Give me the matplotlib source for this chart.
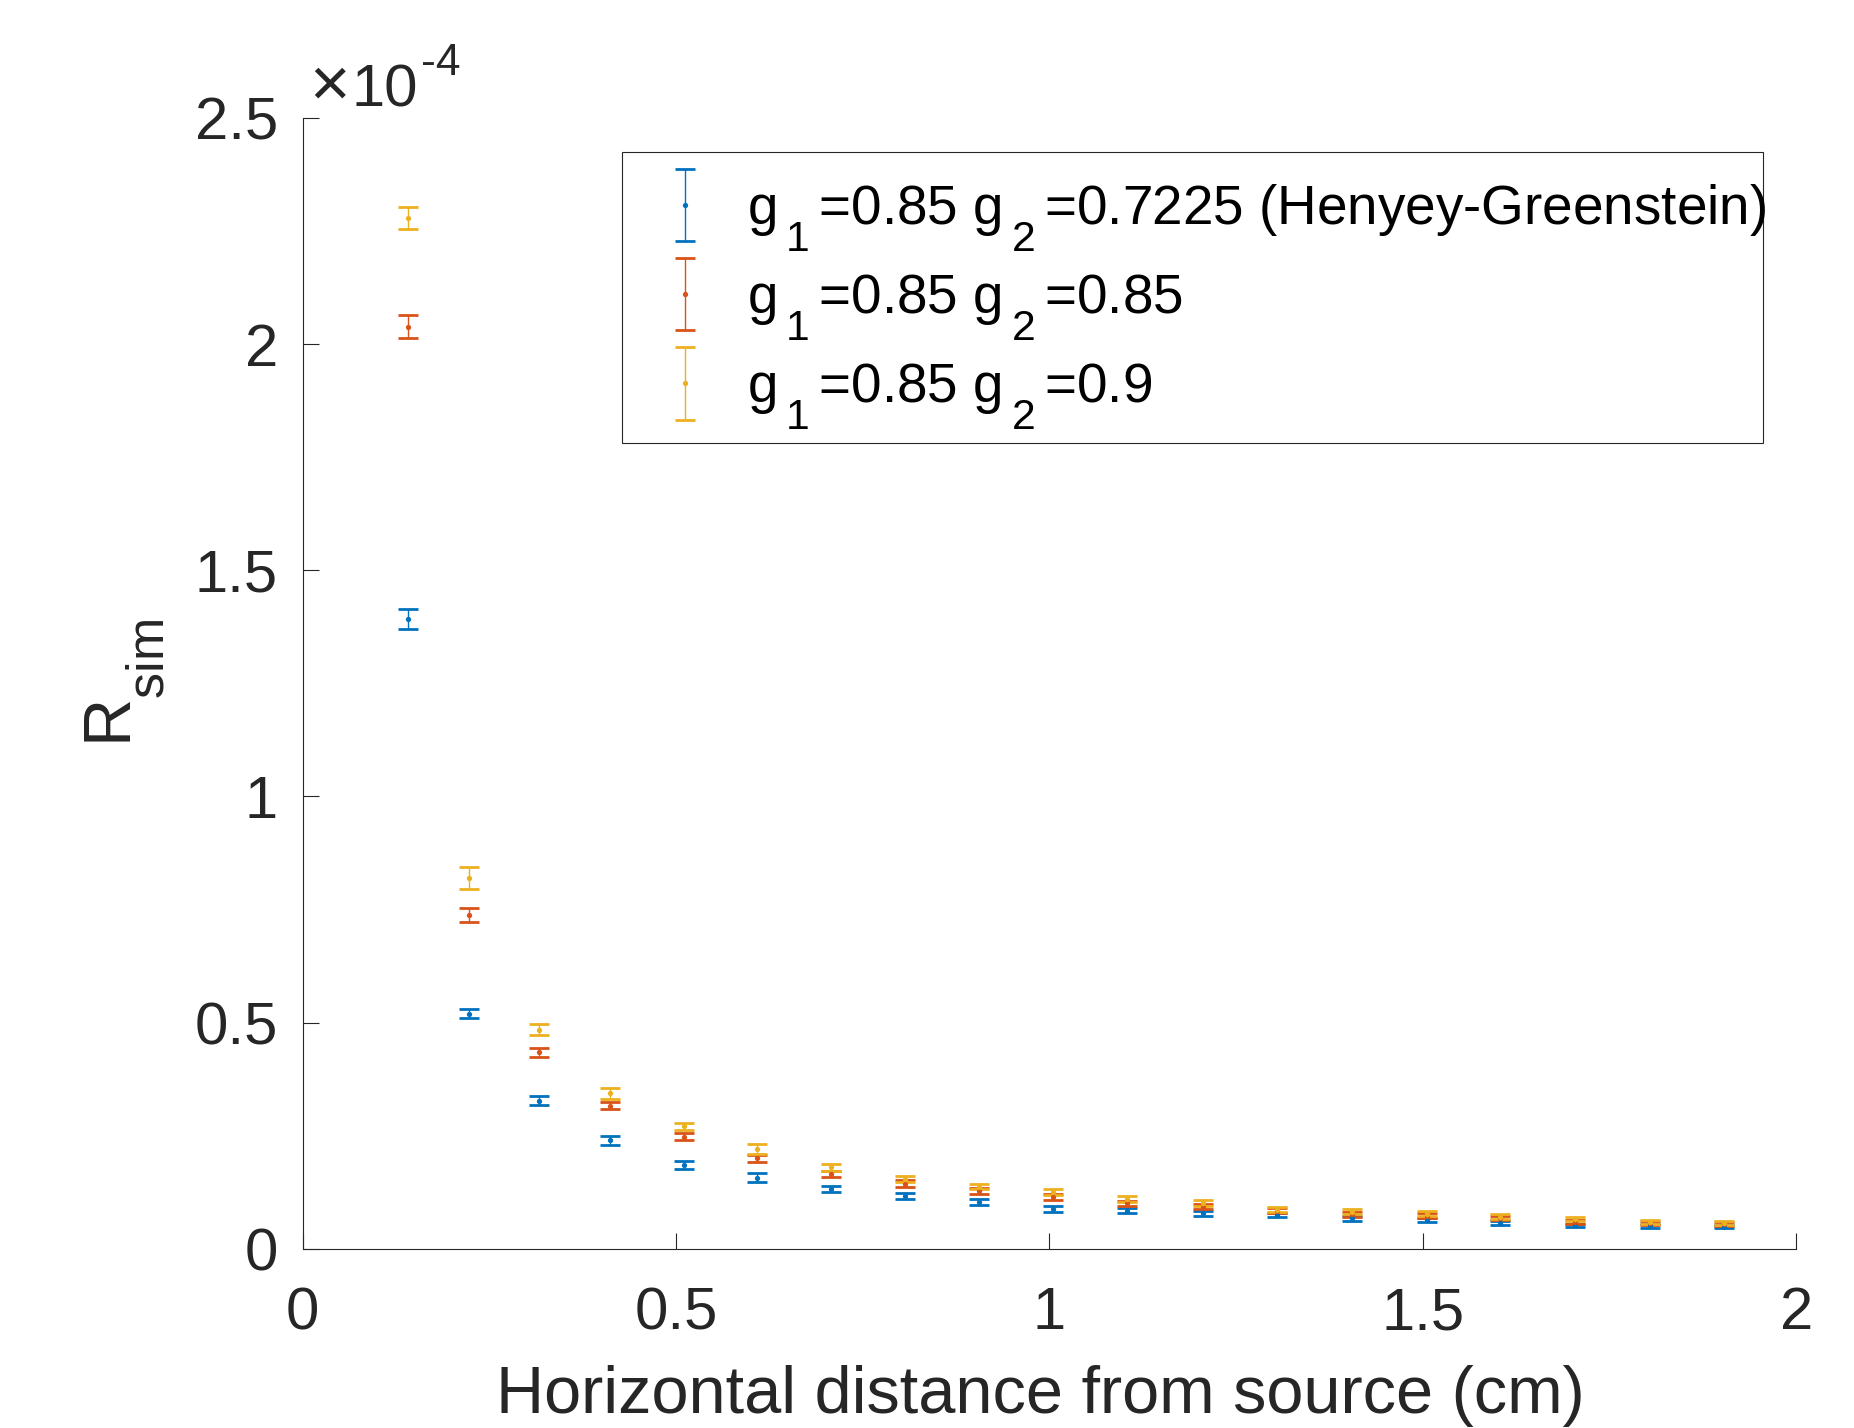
import numpy as np
import matplotlib
matplotlib.use("Agg")
import matplotlib.pyplot as plt
import matplotlib._mathtext as mathtext_internals
from matplotlib.container import ErrorbarContainer
from matplotlib.legend_handler import HandlerErrorbar
from matplotlib.patches import Rectangle

plt.rcParams['font.family'] = ['Liberation Sans', 'DejaVu Sans']
plt.rcParams['mathtext.fontset'] = 'custom'
plt.rcParams['mathtext.rm'] = 'Liberation Sans'
plt.rcParams['mathtext.it'] = 'Liberation Sans:italic'
plt.rcParams['mathtext.bf'] = 'Liberation Sans:bold'
plt.rcParams['mathtext.default'] = 'regular'
plt.rcParams['axes.unicode_minus'] = False

# larger, lower subscripts
mathtext_internals.SHRINK_FACTOR = 0.78
mathtext_internals.FontConstantsBase.sub1 = 0.95

# radial bin positions (cm)
r = [0.141, 0.223, 0.316, 0.412, 0.510, 0.608, 0.707, 0.806, 0.906, 1.005,
     1.104, 1.205, 1.305, 1.405, 1.505, 1.604, 1.704, 1.804, 1.904]

# reflectance in units of 1e-4
R_hg = [1.392, 0.5195, 0.327, 0.2395, 0.185, 0.157, 0.132, 0.116, 0.103, 0.088,
        0.084, 0.078, 0.074, 0.067, 0.063, 0.057, 0.0515, 0.050, 0.0485]
R_085 = [2.039, 0.738, 0.434, 0.316, 0.2475, 0.200, 0.165, 0.144, 0.127, 0.115,
         0.100, 0.093, 0.084, 0.076, 0.073, 0.068, 0.059, 0.0566, 0.054]
R_09 = [2.280, 0.820, 0.484, 0.3434, 0.2704, 0.2195, 0.1797, 0.1539, 0.137, 0.125,
        0.1097, 0.100, 0.086, 0.082, 0.077, 0.0706, 0.066, 0.0595, 0.056]

err_hg = [0.022, 0.0103, 0.0103, 0.0095, 0.0096, 0.0096, 0.0068, 0.0072, 0.007, 0.0066,
          0.006, 0.0055, 0.005, 0.005, 0.0045, 0.004, 0.004, 0.0035, 0.0035]
err_085 = [0.025, 0.0155, 0.0103, 0.0074, 0.0077, 0.0074, 0.007, 0.007, 0.0066, 0.0066,
           0.006, 0.006, 0.0055, 0.005, 0.005, 0.0045, 0.0045, 0.004, 0.004]
err_09 = [0.0243, 0.0243, 0.0118, 0.0118, 0.0081, 0.011, 0.0074, 0.0074, 0.0060, 0.0066,
          0.0074, 0.0066, 0.006, 0.006, 0.0055, 0.005, 0.005, 0.0045, 0.0045]

labels = [r'g$\,$$_1$$\,$=0.85 g$\,$$_2$$\,$=0.7225 (Henyey-Greenstein)',
          r'g$\,$$_1$$\,$=0.85 g$\,$$_2$$\,$=0.85',
          r'g$\,$$_1$$\,$=0.85 g$\,$$_2$$\,$=0.9']
colors = ['#0072BD', '#D95319', '#EDB120']
ink = '#262626'

fig = plt.figure(figsize=(18.54, 14.28), dpi=100)
ax = fig.add_axes([0.1633, 0.1256, 0.8055, 0.7917])

for y, e, c, lab in zip([R_hg, R_085, R_09], [err_hg, err_085, err_09], colors, labels):
    line, caps, bars = ax.errorbar(r, y, yerr=e, fmt='o', color=c, markersize=3.8,
                                   elinewidth=1.0, capsize=7.4, capthick=2.0, label=lab)
    line.set_markeredgewidth(0)

ax.set_xlim(0, 2)
ax.set_ylim(0, 2.5)
ax.set_xticks([0, 0.5, 1, 1.5, 2])
ax.set_yticks([0, 0.5, 1, 1.5, 2, 2.5])
ax.set_xticklabels(['0', '0.5', '1', '1.5', '2'])
ax.set_yticklabels(['0', '0.5', '1', '1.5', '2', '2.5'])

for side in ['top', 'right']:
    ax.spines[side].set_visible(False)
for side in ['left', 'bottom']:
    ax.spines[side].set_color(ink)
    ax.spines[side].set_linewidth(0.8)

ax.tick_params(axis='both', direction='in', length=11.5, width=0.8, color=ink,
               labelcolor=ink, labelsize=43)
ax.tick_params(axis='x', pad=27)
ax.tick_params(axis='y', pad=18)

ax.set_xlabel('Horizontal distance from source (cm)', fontsize=48, color=ink, va='top')
ax.xaxis.set_label_coords(0.494, -0.1025)
ax.set_ylabel('R$_{sim}$', fontsize=48, color=ink)
ax.yaxis.set_label_coords(-0.091, 0.5)

# exponent label above the y axis
ax.annotate('×', xy=(0, 1), xycoords='axes fraction', xytext=(6, 13),
            textcoords='offset pixels', ha='left', va='baseline', fontsize=50, color=ink)
ax.annotate('10', xy=(0, 1), xycoords='axes fraction', xytext=(49, 12),
            textcoords='offset pixels', ha='left', va='baseline', fontsize=43, color=ink)
ax.annotate('-4', xy=(0, 1), xycoords='axes fraction', xytext=(118, 43),
            textcoords='offset pixels', ha='left', va='baseline', fontsize=32, color=ink)

# legend box drawn separately so the padding around the rows stays even
box = Rectangle((0.3357, 0.6900), 0.6153, 0.2034, transform=fig.transFigure,
                facecolor='white', edgecolor=ink, linewidth=0.8, zorder=4)
fig.patches.append(box)

leg = ax.legend(loc='upper left', bbox_to_anchor=(0.3357, 0.8859),
                bbox_transform=fig.transFigure, fontsize=39.5, frameon=False,
                borderpad=0.35, handlelength=1.6, handletextpad=0.32,
                labelspacing=0.34, borderaxespad=0,
                handler_map={ErrorbarContainer: HandlerErrorbar(yerr_size=0.66)})
leg.set_zorder(5)
leg.remove()
fig.legends.append(leg)
leg.set_figure(fig)
for t in leg.get_texts():
    t.set_color('black')

fig.savefig('out.png', dpi=100)
